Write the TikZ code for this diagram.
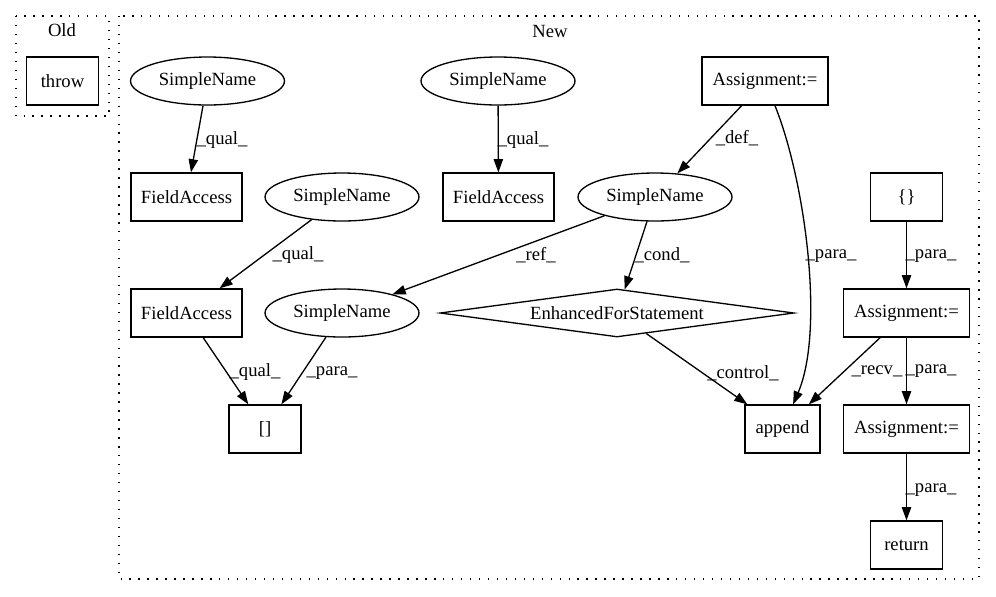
\documentclass[tikz,border=0pt]{standalone}
\usepackage{fontspec}
\setmainfont{Liberation Serif}
\usetikzlibrary{shapes.geometric,arrows.meta}

\begin{document}
\begin{tikzpicture}[x=0.02cm, y=-0.02cm, line width=0.75pt,
        >={Triangle[length=7.5pt,width=5.3pt]},
        every node/.style={font=\fontsize{10.6}{12}\selectfont, inner sep=0pt},
        opbox/.style={draw, rectangle, minimum height=0.96cm},
        sname/.style={draw, ellipse, minimum width=3.08cm, minimum height=0.96cm},
        forst/.style={draw, diamond, aspect=7.4, minimum width=7.08cm, minimum height=0.96cm},
        lbl/.style={},
        grp/.style={draw, dash pattern=on 0.8pt off 4.3pt}]
        \useasboundingbox (0,0) rectangle (996,596);
        \path[grp] (16,16) rectangle (109,116);
        \path[grp] (119,16) rectangle (979,579);
        \node (old) at (62,30) {Old};
        \node (new) at (550,31) {New};

        \node[opbox, minimum width=1.44cm] (throw) at (62.5,81) {throw};

        \node[sname] (sn1) at (207.5,81) {SimpleName};
        \node[opbox, minimum width=2.22cm] (fa1) at (186.5,197) {FieldAccess};
        \node[sname] (sn2) at (498,81) {SimpleName};
        \node[opbox, minimum width=2.22cm] (fa2) at (498.5,197) {FieldAccess};
        \node[opbox, minimum width=2.52cm] (asg1) at (765,81) {Assignment:=};
        \node[sname] (sn3) at (655,197) {SimpleName};
        \node[opbox, minimum width=1.44cm] (init) at (906.5,197) {\{\}};
        \node[sname] (sn4) at (342,197) {SimpleName};
        \node[opbox, minimum width=2.22cm] (fa3) at (186.5,313) {FieldAccess};
        \node[sname] (sn5) at (342,313) {SimpleName};
        \node[forst] (efs) at (617,313) {EnhancedForStatement};
        \node[opbox, minimum width=2.52cm] (asg2) at (906.5,313) {Assignment:=};
        \node[opbox, minimum width=1.44cm] (idx) at (265,429) {[]};
        \node[opbox, minimum width=1.5cm] (app) at (782.5,429) {append};
        \node[opbox, minimum width=2.52cm] (asg3) at (906.5,429) {Assignment:=};
        \node[opbox, minimum width=1.44cm] (ret) at (906.5,545) {return};

        % edges
        \draw[->] (sn1) -- (fa1) node[lbl] at (222,140) {\_qual\_};
        \draw[->] (sn2) -- (fa2) node[lbl] at (523,140) {\_qual\_};
        \draw[->] (sn4) -- (fa3) node[lbl] at (298,255) {\_qual\_};
        \draw[->] (asg1) -- (sn3) node[lbl] at (737,138) {\_def\_};
        \draw[->] (asg1) .. controls (805,180) and (825,330) .. (app) node[lbl] at (831,256) {\_para\_};
        \draw[->] (init) -- (asg2) node[lbl] at (931,256) {\_para\_};
        \draw[->] (sn3) -- (sn5) node[lbl] at (536,255) {\_ref\_};
        \draw[->] (sn3) -- (efs) node[lbl] at (662,255) {\_cond\_};
        \draw[->] (fa3) -- (idx) node[lbl] at (255,372) {\_qual\_};
        \draw[->] (sn5) -- (idx) node[lbl] at (332,373) {\_para\_};
        \draw[->] (efs) -- (app) node[lbl] at (743,373) {\_control\_};
        \draw[->] (asg2) -- (app) node[lbl] at (877,371) {\_recv\_};
        \draw[->] (asg2) -- (asg3) node[lbl] at (931,371) {\_para\_};
        \draw[->] (asg3) -- (ret) node[lbl] at (931,490) {\_para\_};
    \end{tikzpicture}
\end{document}
